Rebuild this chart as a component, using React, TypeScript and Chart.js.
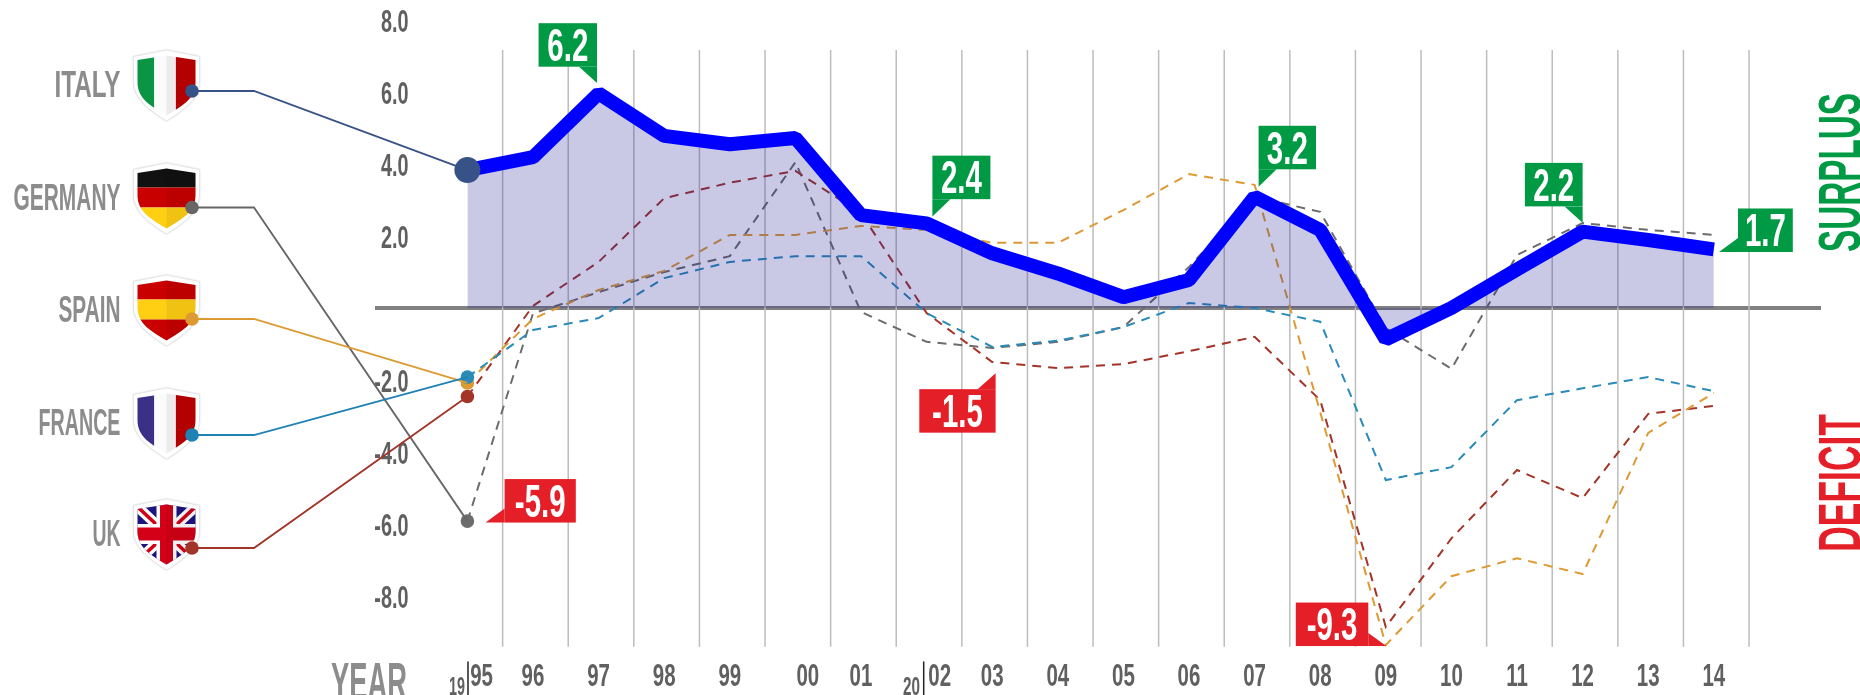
import React, { useEffect, useRef } from "react";
import { Chart, registerables } from "chart.js";

Chart.register(...registerables);

const years = [1995, 1996, 1997, 1998, 1999, 2000, 2001, 2002, 2003, 2004, 2005, 2006, 2007, 2008, 2009, 2010, 2011, 2012, 2013, 2014];
const yearLabels = ["95", "96", "97", "98", "99", "00", "01", "02", "03", "04", "05", "06", "07", "08", "09", "10", "11", "12", "13", "14"];
const yearLabelShift = [0.216, 0, 0, 0, 0, 0.19, 0, 0.2, 0, 0, 0, 0, 0, 0, 0, 0, 0, 0, 0, 0];
const valueTicks = [8, 6, 4, 2, 0, -2, -4, -6, -8];

const italy = [3.83, 4.19, 5.96, 4.78, 4.55, 4.72, 2.58, 2.35, 1.52, 0.96, 0.3, 0.78, 3.09, 2.17, -0.87, 0.0, 1.07, 2.12, 1.89, 1.63];
const germany = [-5.92, -0.15, 0.44, 1.0, 1.44, 4.05, -0.11, -0.94, -1.11, -0.94, -0.53, 1.14, 3.09, 2.67, -0.56, -1.69, 1.47, 2.36, 2.17, 2.03];
const spain = [-2.08, -0.3, 0.5, 1.03, 2.03, 2.03, 2.28, 2.17, 1.81, 1.81, 2.72, 3.72, 3.42, -2.89, -9.36, -7.45, -6.95, -7.39, -3.47, -2.36];
const france = [-1.92, -0.61, -0.28, 0.83, 1.28, 1.44, 1.44, -0.14, -1.08, -0.91, -0.53, 0.14, 0.0, -0.38, -4.78, -4.42, -2.56, -2.23, -1.92, -2.31];
const uk = [-2.46, 0.06, 1.28, 3.05, 3.48, 3.81, 2.63, -0.14, -1.5, -1.67, -1.56, -1.2, -0.8, -2.56, -8.86, -6.4, -4.5, -5.28, -2.94, -2.72];

const countries = ["ITALY", "GERMANY", "SPAIN", "FRANCE", "UK"];
const countryColors = ["#375286", "#666666", "#dd9a33", "#1f82b4", "#a33428"];
const labelWidths = [66, 107, 62, 82, 28];
const shieldTops = [50, 163, 275, 388, 499];
const dotYs = [91, 207.5, 319, 435, 548];

const GREEN = "#009a44";
const RED = "#e51f28";
const calloutText = ["6.2", "2.4", "3.2", "2.2", "1.7", "-5.9", "-1.5", "-9.3"];
const calloutYear = [1997, 2002, 2007, 2012, 2014, 1995, 2003, 2009];
const calloutTip = [6.25, 2.54, 3.37, 2.37, 1.556, -5.96, -1.81, -9.39];
const calloutTipDx = [-1.6, 5.8, 4, 0, 5.2, 18.2, 3.4, 0.5];
const calloutWidth = [58.4, 58, 57.4, 57.7, 54.8, 71.2, 76.3, 72.5];
const calloutTail = ["brDown", "blDown", "blDown", "brDown", "blLeft", "blLeft", "trUp", "brRight"];

const FONT = '"Liberation Sans", Arial, sans-serif';
const DEFAULT_SQUEEZE = 0.64;
let squeeze = DEFAULT_SQUEEZE;

function fitText(ctx: any, text: string, x: number, y: number, width: number, align: CanvasTextAlign) {
  ctx.textAlign = align;
  ctx.textBaseline = "alphabetic";
  squeeze = width / (ctx as any).measureText(text).width;
  ctx.fillText(text, x, y);
  squeeze = DEFAULT_SQUEEZE;
}

function shieldPath(ctx: any, x: number, y: number, inset: number) {
  const l = x + inset;
  const r = x + 66 - inset;
  const top = y + (inset ? 5.5 : 0);
  const corner = y + (inset ? 10 : 6.5);
  const bottom = y + (inset ? 65.5 : 71);
  const side = y + 32;
  ctx.beginPath();
  ctx.moveTo(x + 33, top);
  ctx.lineTo(r, corner);
  ctx.lineTo(r, side);
  ctx.bezierCurveTo(r, side + 17, x + 49, bottom - 10, x + 33, bottom);
  ctx.bezierCurveTo(x + 17, bottom - 10, l, side + 17, l, side);
  ctx.lineTo(l, corner);
  ctx.closePath();
}

function drawFlag(ctx: any, name: string, x: number, y: number) {
  ctx.save();
  shieldPath(ctx, x, y, 0);
  ctx.fillStyle = "#ffffff";
  ctx.shadowColor = "rgba(0,0,0,0.25)";
  ctx.shadowBlur = 2;
  ctx.fill();
  ctx.shadowColor = "transparent";
  ctx.strokeStyle = "#e6e6e6";
  ctx.lineWidth = 1;
  ctx.stroke();
  shieldPath(ctx, x, y, 4);
  ctx.clip();
  const vStripes = (a: string, b: string, c: string) => {
    ctx.fillStyle = a;
    ctx.fillRect(x, y, 20.8, 72);
    ctx.fillStyle = b;
    ctx.fillRect(x + 20.8, y, 21.6, 72);
    ctx.fillStyle = c;
    ctx.fillRect(x + 42.4, y, 24, 72);
  };
  const hStripes = (a: string, b: string, c: string) => {
    ctx.fillStyle = a;
    ctx.fillRect(x, y, 66, 24.5);
    ctx.fillStyle = b;
    ctx.fillRect(x, y + 24.5, 66, 20);
    ctx.fillStyle = c;
    ctx.fillRect(x, y + 44.5, 66, 28);
  };
  if (name === "ITALY") vStripes("#0b9444", "#fbfbfb", "#bf0000");
  if (name === "FRANCE") vStripes("#3a3087", "#fbfbfb", "#bf0000");
  if (name === "GERMANY") hStripes("#111111", "#c80000", "#ffcf14");
  if (name === "SPAIN") hStripes("#c80000", "#ffcf14", "#c80000");
  if (name === "UK") {
    ctx.fillStyle = "#1c1480";
    ctx.fillRect(x, y, 66, 72);
    const cx = x + 33;
    const cy = y + 35;
    ctx.lineCap = "butt";
    ctx.strokeStyle = "#ffffff";
    ctx.lineWidth = 10;
    ctx.beginPath();
    ctx.moveTo(x, y + 4);
    ctx.lineTo(x + 66, y + 66);
    ctx.moveTo(x + 66, y + 4);
    ctx.lineTo(x, y + 66);
    ctx.stroke();
    ctx.strokeStyle = "#d40018";
    ctx.lineWidth = 3.5;
    ctx.stroke();
    ctx.strokeStyle = "#ffffff";
    ctx.lineWidth = 20;
    ctx.beginPath();
    ctx.moveTo(cx, y);
    ctx.lineTo(cx, y + 72);
    ctx.moveTo(x, cy);
    ctx.lineTo(x + 66, cy);
    ctx.stroke();
    ctx.strokeStyle = "#d40018";
    ctx.lineWidth = 13;
    ctx.stroke();
  }
  ctx.fillStyle = "rgba(0,0,0,0.06)";
  ctx.fillRect(x + 33, y, 33, 72);
  ctx.restore();
}

const decorPlugin = {
  id: "decor",
  beforeDatasetsDraw(chart: any) {
    const { ctx, scales } = chart;
    const top = scales.y.getPixelForValue(7.17);
    const bottom = scales.y.getPixelForValue(-9.41);
    ctx.save();
    ctx.strokeStyle = "#bdbdbd";
    ctx.lineWidth = 1.5;
    years.forEach((yr) => {
      const px = scales.x.getPixelForValue(yr + 0.537);
      ctx.beginPath();
      ctx.moveTo(px, top);
      ctx.lineTo(px, bottom);
      ctx.stroke();
    });
    ctx.restore();
  },
  afterDraw(chart: any) {
    const { ctx, scales, data } = chart;
    ctx.save();
    // country labels, shields and leader lines
    countries.forEach((name, i) => {
      ctx.font = `bold 37px ${FONT}`;
      ctx.fillStyle = "#8c8c8c";
      fitText(ctx, name, 120.5, shieldTops[i] + 47, labelWidths[i], "right");
      drawFlag(ctx, name, 133.5, shieldTops[i]);
      const ds = data.datasets.find((d: any) => d.label === name);
      const endX = scales.x.getPixelForValue(years[0]);
      const endY = scales.y.getPixelForValue(ds.data[0]);
      ctx.strokeStyle = countryColors[i];
      ctx.lineWidth = 1.8;
      ctx.beginPath();
      ctx.moveTo(192, dotYs[i]);
      ctx.lineTo(254, dotYs[i]);
      ctx.lineTo(endX, endY);
      ctx.stroke();
      ctx.fillStyle = countryColors[i];
      ctx.beginPath();
      ctx.arc(192, dotYs[i], 6.8, 0, Math.PI * 2);
      ctx.fill();
    });
    // callouts
    calloutText.forEach((text, i) => {
      const tx = scales.x.getPixelForValue(calloutYear[i]) + calloutTipDx[i];
      const ty = scales.y.getPixelForValue(calloutTip[i]);
      const w = calloutWidth[i];
      const h = 43.5;
      const tail = calloutTail[i];
      let bx = 0;
      let by = 0;
      let poly: number[][] = [];
      if (tail === "brDown") {
        bx = tx - w;
        by = ty - 16.3 - h;
        poly = [[tx - 18, by + h], [tx, by + h], [tx, ty]];
      } else if (tail === "blDown") {
        bx = tx;
        by = ty - 17.4 - h;
        poly = [[tx, by + h], [tx + 18, by + h], [tx, ty]];
      } else if (tail === "blLeft") {
        bx = tx + 19;
        by = ty - h;
        poly = [[bx, ty - 14], [bx, ty], [tx, ty]];
      } else if (tail === "trUp") {
        bx = tx - w;
        by = ty + 16;
        poly = [[tx - 18, by], [tx, by], [tx, ty]];
      } else {
        bx = tx - 18 - w;
        by = ty - h;
        poly = [[bx + w, ty - 13], [bx + w, ty], [tx, ty]];
      }
      ctx.fillStyle = text.startsWith("-") ? RED : GREEN;
      ctx.fillRect(bx, by, w, h);
      ctx.beginPath();
      poly.forEach((p, k) => (k ? ctx.lineTo(p[0], p[1]) : ctx.moveTo(p[0], p[1])));
      ctx.closePath();
      ctx.fill();
      ctx.fillStyle = "#ffffff";
      ctx.font = `bold 46px ${FONT}`;
      ctx.textAlign = "center";
      ctx.textBaseline = "alphabetic";
      ctx.fillText(text, bx + w / 2, by + h / 2 + 16);
    });
    // YEAR and century marks
    ctx.fillStyle = "#8c8c8c";
    ctx.font = `bold 54px ${FONT}`;
    fitText(ctx, "YEAR", 331, 700, 76, "left");
    ctx.fillStyle = "#606060";
    ctx.font = `bold 25px ${FONT}`;
    fitText(ctx, "19", 449, 695, 16, "left");
    fitText(ctx, "20", 903, 695, 17, "left");
    ctx.strokeStyle = "#222222";
    ctx.lineWidth = 1.5;
    [years[0], years[7]].forEach((yr) => {
      const px = scales.x.getPixelForValue(yr) + (yr === years[0] ? 0.6 : -2.9);
      ctx.beginPath();
      ctx.moveTo(px, 661.5);
      ctx.lineTo(px, 695);
      ctx.stroke();
    });
    // side titles
    ctx.font = `bold 60px ${FONT}`;
    ctx.fillStyle = GREEN;
    ctx.save();
    ctx.translate(1860, 252);
    ctx.rotate(-Math.PI / 2);
    fitText(ctx, "SURPLUS", 0, 0, 159, "left");
    ctx.restore();
    ctx.fillStyle = RED;
    ctx.save();
    ctx.translate(1860, 551.7);
    ctx.rotate(-Math.PI / 2);
    fitText(ctx, "DEFICIT", 0, 0, 137.7, "left");
    ctx.restore();
    ctx.restore();
  },
};

function dashed(label: string, values: number[], color: string) {
  return {
    label,
    data: values,
    borderColor: color,
    backgroundColor: color,
    borderWidth: 2,
    borderDash: [9, 7],
    pointRadius: (c: any) => (c.dataIndex === 0 ? 6.8 : 0),
    pointBackgroundColor: color,
    pointBorderWidth: 0,
    fill: false,
    tension: 0,
  };
}

export default function App() {
  const ref = useRef<HTMLCanvasElement>(null);
  useEffect(() => {
    const canvas = ref.current as HTMLCanvasElement;
    const ctx: any = canvas.getContext("2d");
    const raw = CanvasRenderingContext2D.prototype.fillText;
    ctx.fillText = function (t: string, x: number, y: number) {
      ctx.save();
      ctx.translate(x, y);
      ctx.scale(squeeze, 1);
      raw.call(ctx, t, 0, 0);
      ctx.restore();
    };
    const chart = new Chart(ctx, {
      type: "line",
      data: {
        labels: years as any,
        datasets: [
          {
            label: "ITALY",
            data: italy,
            borderColor: "#0000ff",
            backgroundColor: "rgba(30,30,150,0.24)",
            borderWidth: 14,
            borderJoinStyle: "bevel",
            borderCapStyle: "butt",
            pointRadius: (c: any) => (c.dataIndex === 0 ? 13 : 0),
            pointBackgroundColor: "#375286",
            pointBorderWidth: 0,
            fill: "origin",
            tension: 0,
          } as any,
          dashed("FRANCE", france, "#2a8ab8"),
          dashed("SPAIN", spain, "#dd9a33"),
          dashed("UK", uk, "#a33428"),
          dashed("GERMANY", germany, "#6c6c6c"),
        ],
      },
      options: {
        animation: false,
        responsive: false,
        devicePixelRatio: 1,
        events: [],
        layout: { padding: { left: 0, right: 39, top: 20, bottom: 0 } },
        plugins: { legend: { display: false }, tooltip: { enabled: false }, title: { display: false } },
        scales: {
          x: {
            type: "linear",
            min: 1994.1098,
            max: 2015.634,
            grid: { display: false, drawTicks: false },
            border: { display: false },
            afterBuildTicks: (s: any) => {
              s.ticks = years.map((y, i) => ({ value: y + yearLabelShift[i] }));
            },
            afterFit: (s: any) => {
              s.height = 45;
            },
            ticks: {
              autoSkip: false,
              maxRotation: 0,
              minRotation: 0,
              padding: 8,
              color: "#606060",
              font: { family: FONT, size: 32, weight: "bold" },
              callback: (v: any) => yearLabels[years.indexOf(Math.floor(Number(v)))],
            },
          },
          y: {
            type: "linear",
            min: -9.5,
            max: 8,
            border: { display: false },
            grid: {
              drawTicks: true,
              tickLength: 34,
              color: (c: any) => (c.tick && c.tick.value === 0 ? "#808080" : "rgba(0,0,0,0)"),
              tickColor: (c: any) => (c.tick && c.tick.value === 0 ? "#808080" : "rgba(0,0,0,0)"),
              lineWidth: (c: any) => (c.tick && c.tick.value === 0 ? 4 : 0),
              tickWidth: (c: any) => (c.tick && c.tick.value === 0 ? 4 : 0),
            },
            afterBuildTicks: (s: any) => {
              s.ticks = valueTicks.map((value) => ({ value }));
            },
            afterFit: (s: any) => {
              s.width = 409;
            },
            ticks: {
              autoSkip: false,
              padding: -33.5,
              labelOffset: 3,
              color: "#606060",
              font: { family: FONT, size: 31, weight: "bold" },
              callback: (v: any) => (Number(v) === 0 ? "" : Number(v).toFixed(1)),
            },
          },
        },
      } as any,
      plugins: [decorPlugin],
    });
    return () => {
      chart.destroy();
      delete ctx.fillText;
    };
  }, []);
  return (
    <div style={{ position: "absolute", left: 0, top: 0, width: 1860, height: 695, overflow: "hidden", background: "#ffffff" }}>
      <canvas ref={ref} width={1860} height={695} style={{ display: "block", width: 1860, height: 695 }} />
    </div>
  );
}
